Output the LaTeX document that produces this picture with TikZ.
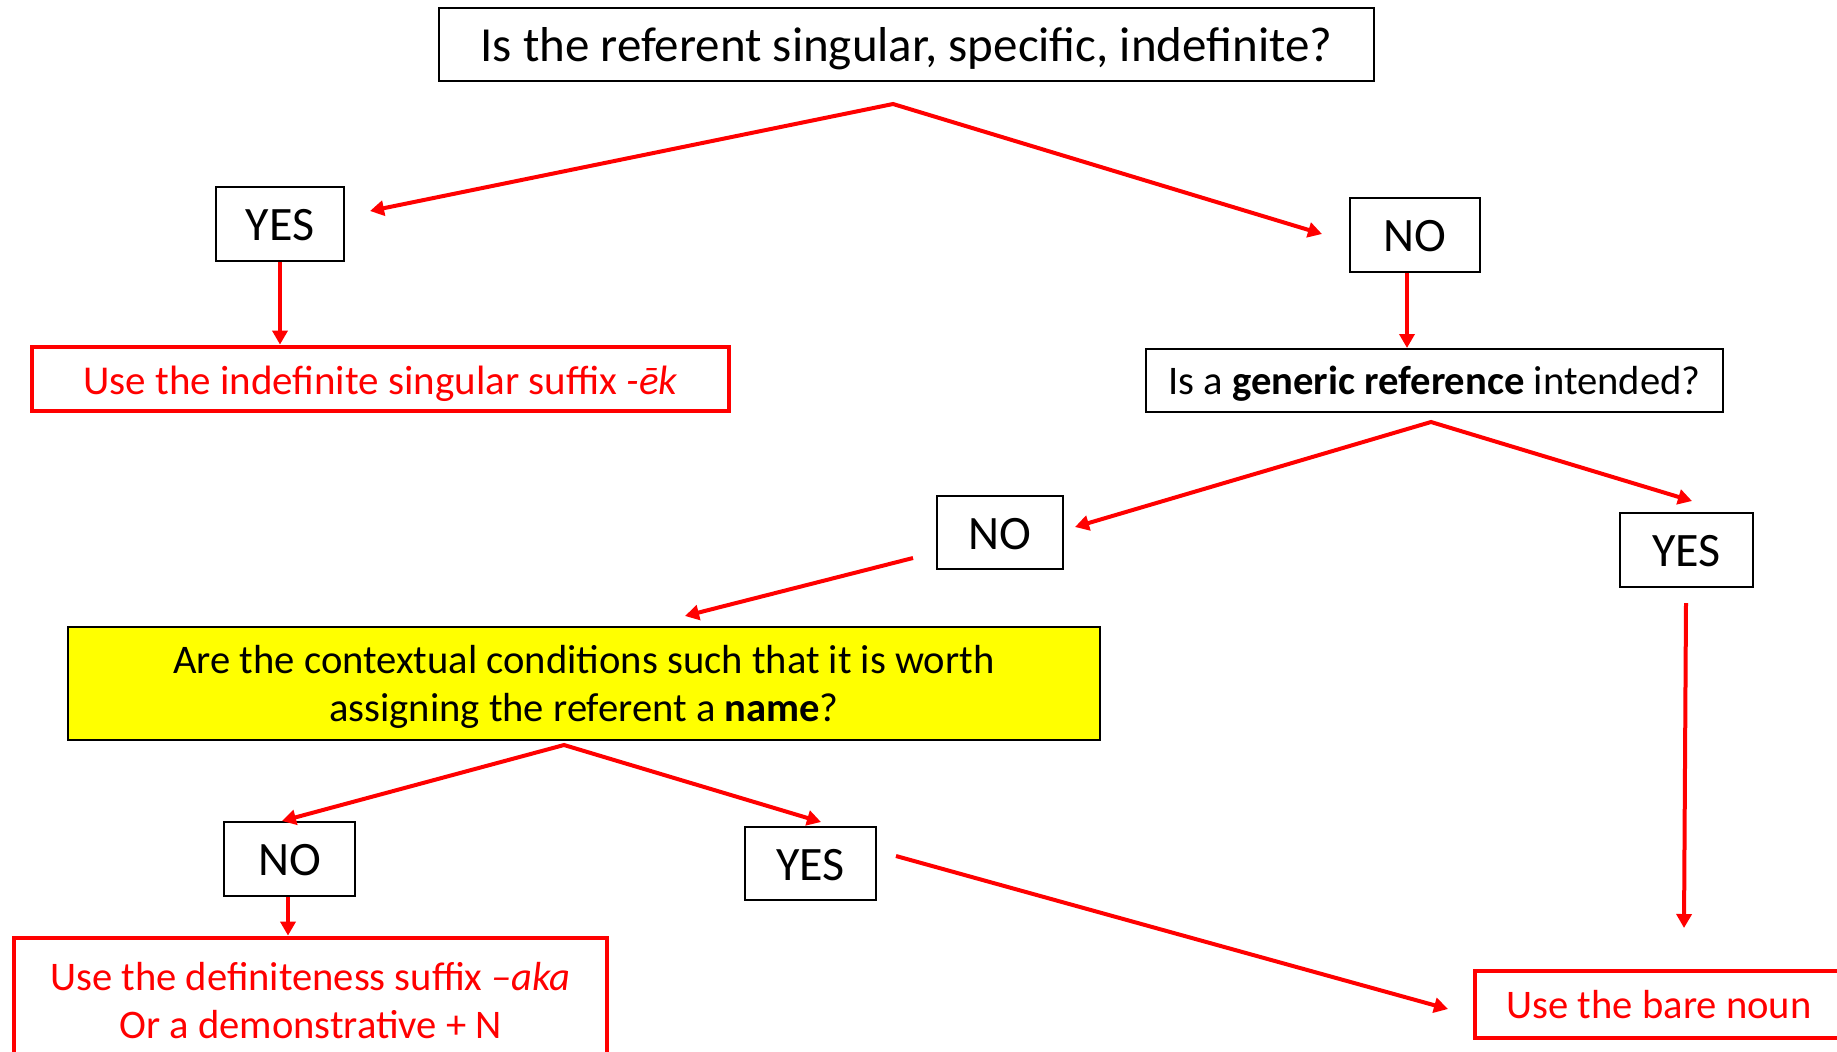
\documentclass[tikz,border=0pt]{standalone}
\usepackage{fontspec}
\setmainfont{Carlito}
\usetikzlibrary{arrows.meta}
\definecolor{pred}{HTML}{FF0000}
\definecolor{pyel}{HTML}{FFFF00}
\tikzset{
  wh/.style 2 args={minimum width=#1*0.5pt, minimum height=#2*0.5pt},
  qbox/.style={draw=black, line width=1pt, inner sep=0pt, align=center, text height=16.6pt, text depth=0pt, font=\fontsize{24pt}{28pt}\selectfont},
  sbox/.style={draw=black, line width=1pt, inner sep=0pt, align=center, text height=14.2pt, text depth=0pt, font=\fontsize{20.3pt}{24pt}\selectfont},
  rbox/.style={draw=pred, line width=2.4pt, inner sep=0pt, align=center, text=pred, text height=14.2pt, text depth=0pt, font=\fontsize{20.3pt}{24pt}\selectfont},
  twolines/.style={text height=38.2pt, text depth=0pt},
  arr/.style={draw=pred, line width=2pt, -{Triangle[length=7pt,width=7.5pt]}},
  arrs/.style={draw=pred, line width=2pt, {Triangle[length=7pt,width=7.5pt]}-{Triangle[length=7pt,width=7.5pt]}, line join=miter},
}
\begin{document}
\begin{tikzpicture}[x=0.5pt, y=-0.5pt]
\clip (0,0) rectangle (1837,1051);
\fill[white] (0,0) rectangle (1837,1051);
% nodes
\node[qbox, wh={935}{73}] (top) at (906.5,44.5) {\fontsize{24.5pt}{28pt}\selectfont Is the referent singular, specific, indefinite?};
\node[qbox, wh={128}{74}] (yes1) at (280,224) {YES};
\node[rbox, wh={697}{64}, text height=15.5pt] (res1) at (380.5,379) {\fontsize{20.5pt}{24pt}\selectfont Use the indefinite singular suffix \textit{-ēk}};
\node[qbox, wh={130}{74}] (no1) at (1415,235) {NO};
\node[sbox, wh={577}{63}] (gen) at (1434.5,380.5) {Is a \textbf{generic reference} intended?};
\node[qbox, wh={126}{73}] (no2) at (1000,532.5) {NO};
\node[qbox, wh={133}{74}] (yes2) at (1686.5,550) {YES};
\node[sbox, twolines, fill=pyel, wh={1032}{113}] (yel) at (584,683.5) {Are the contextual conditions such that it is worth\\assigning the referent a \textbf{name}?};
\node[qbox, wh={131}{74}] (no3) at (289.5,859) {NO};
\node[qbox, wh={131}{73}] (yes3) at (810.5,863.5) {YES};
\node[rbox, twolines, wh={593}{124}] (res2) at (310.5,1000) {Use the definiteness suffix \textit{–aka}\\Or a demonstrative + N};
\node[rbox, wh={368}{67}] (res3) at (1659,1004.5) {Use the bare noun};
% coordinates
\coordinate (ap1) at (893,104);
\coordinate (t1) at (370,211);
\coordinate (t2) at (1322,234);
\coordinate (ap2) at (1431,422);
\coordinate (t3) at (1075,527);
\coordinate (t4) at (1692,501);
\coordinate (s5) at (913,558);
\coordinate (t5) at (685,616);
\coordinate (ap3) at (564,745);
\coordinate (t6) at (282,821);
\coordinate (t7) at (821,822);
\coordinate (s8) at (896,856);
\coordinate (t8) at (1448,1009);
\coordinate (s9) at (1686,603);
\coordinate (t9) at (1684,928);
% connectors
\draw[arrs] (t1) -- (ap1) -- (t2);
\draw[arr] (yes1.south) -- (yes1.south |- res1.north);
\draw[arr] ([xshift=-4pt]no1.south) -- ([xshift=-4pt]no1.south |- gen.north);
\draw[arrs] (t3) -- (ap2) -- (t4);
\draw[arr] (s5) -- (t5);
\draw[arrs] (t6) -- (ap3) -- (t7);
\draw[arr] ([xshift=-0.75pt]no3.south) -- ([xshift=-0.75pt]no3.south |- res2.north);
\draw[arr] (s8) -- (t8);
\draw[arr] (s9) -- (t9);
\end{tikzpicture}
\end{document}
